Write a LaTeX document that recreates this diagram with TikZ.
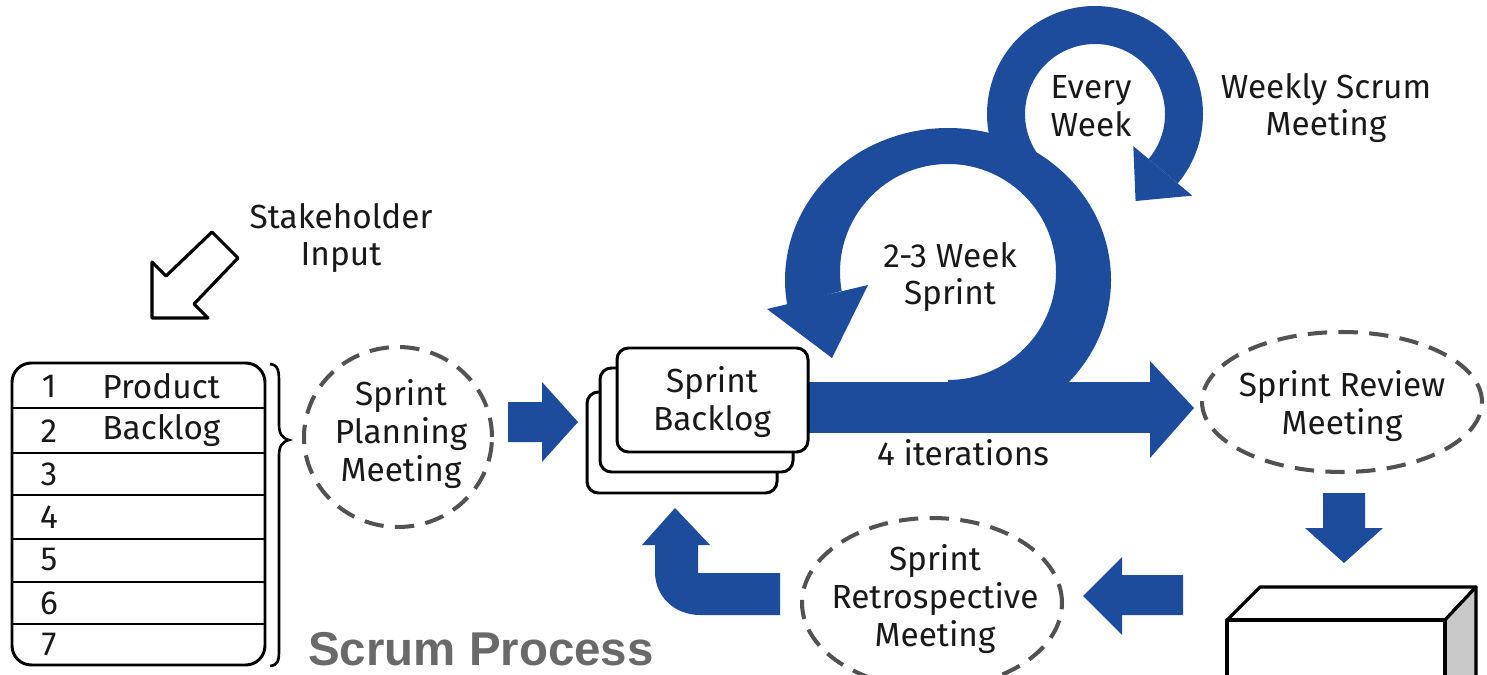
\documentclass[tikz,border=0pt]{standalone}
\usepackage{fontspec}
\setmainfont{Fira Sans}
\newfontfamily\arialfont{Liberation Sans}
\usetikzlibrary{shapes.geometric}
\definecolor{sblue}{RGB}{30,76,156}
\definecolor{dashgray}{RGB}{82,82,82}
\definecolor{txt}{RGB}{25,25,25}
\definecolor{sidegray}{RGB}{200,200,200}
\definecolor{titlegray}{RGB}{105,105,105}
\newcommand\fs{\fontsize{19pt}{21.5pt}\selectfont}
\tikzset{
  lbl/.style={font=\fs, text=txt, inner sep=0pt, align=center},
  blockarrow/.style={fill=sblue, draw=none},
  meet/.style={ellipse, draw=dashgray, line width=2.3pt, dash pattern=on 11pt off 6.5pt, inner sep=0pt},
  tbl/.style={draw=black, line width=1.7pt},
  card/.style={draw=black, line width=1.7pt, fill=white, rounded corners=6.5pt},
  boxline/.style={draw=black, line width=1.8pt, line join=round},
}
\begin{document}
\begin{tikzpicture}[x=0.02cm,y=-0.02cm]
\useasboundingbox (0,0) rectangle (1487,675);
\clip (0,0) rectangle (1487,675);
\fill[white] (0,0) rectangle (1487,675);

% ---- small weekly loop ----
\fill[blockarrow] ([shift={(1095,114)}]-215:108) arc[start angle=-215,end angle=40,radius=108]
   -- ([shift={(1095,114)}]40:70) arc[start angle=40,end angle=-215,radius=70] -- cycle;
\fill[blockarrow] ([shift={(1095,114)}]40:50) -- ([shift={(1095,114)}]40:127) -- ([shift={(1095,114)}]65:96) -- cycle;

% ---- big sprint loop ----
\fill[blockarrow] (948,432) arc[start angle=90,end angle=-190,x radius=163,y radius=152]
   -- ([shift={(948,272)}]-190:108) arc[start angle=-190,end angle=90,radius=108] -- cycle;
\fill[blockarrow] (767,309) -- (868,285) -- (832,358) -- cycle;
\fill[blockarrow] (790,382) rectangle (1151,433);
\fill[blockarrow] (1150,361) -- (1194,408) -- (1150,458) -- cycle;

% ---- sprint backlog cards ----
\draw[card] (587,392) rectangle (777,493);
\draw[card] (600,368) rectangle (793,472);
\draw[card] (617,348) rectangle (808,452);
\node[lbl] (sb) at (712,402) {Sprint\\Backlog};

% ---- product backlog table ----
\draw[tbl, rounded corners=11pt, fill=white] (12,363) rectangle (265,665);
\foreach \yy in {408,453,495,539,582,624} \draw[tbl] (12,\yy) -- (265,\yy);
\node[lbl] (n1) at (49,386) {1};
\node[lbl] (n2) at (49,431) {2};
\node[lbl] (n3) at (49,474) {3};
\node[lbl] (n4) at (49,517) {4};
\node[lbl] (n5) at (49,560) {5};
\node[lbl] (n6) at (49,603) {6};
\node[lbl] (n7) at (49,644) {7};
\node[lbl, anchor=west] (pb1) at (102,386) {Product};
\node[lbl, anchor=west] (pb2) at (102,431) {Backlog};
\draw[black, line width=1.5pt] (270,364) .. controls (279,365) and (279,372) .. (279,384) -- (279,424)
   .. controls (279,434) and (282,438) .. (289,440) .. controls (282,442) and (279,446) .. (279,456)
   -- (279,650) .. controls (279,661) and (278,665) .. (270,666);

% ---- stakeholder input ----
\draw[boxline, fill=white] (152,318) -- (152,262) -- (166,276) -- (212,232) -- (238,258) -- (194,304) -- (208,318) -- cycle;
\node[lbl] (stake) at (341,238) {Stakeholder\\Input};

% ---- sprint planning ----
\node[meet, minimum width=3.76cm, minimum height=3.6cm] (plan) at (398,437) {};
\node[lbl] (planl) at (401,434) {Sprint\\Planning\\Meeting};
\fill[blockarrow] (508,402) -- (542,402) -- (542,382) -- (578,422) -- (542,462) -- (542,442) -- (508,442) -- cycle;

% ---- loop labels ----
\node[lbl] (sprint) at (950,277) {2-3 Week\\Sprint};
\node[lbl] (iter) at (963,453) {4 iterations};
\node[lbl] (every) at (1091,106) {Every\\Week};
\node[lbl] (weekly) at (1326,108) {Weekly Scrum\\Meeting};

% ---- sprint review ----
\node[meet, minimum width=5.6cm, minimum height=2.8cm] (review) at (1342,402) {};
\node[lbl] (reviewl) at (1342,406) {Sprint Review\\Meeting};
\fill[blockarrow] (1323,493) -- (1365,493) -- (1365,528) -- (1383,528) -- (1344,563) -- (1305,528) -- (1323,528) -- cycle;

% ---- product box ----
\draw[boxline, fill=white] (1227,620) -- (1260,587) -- (1476,587) -- (1445,620) -- cycle;
\draw[boxline, fill=sidegray] (1445,620) -- (1476,587) -- (1476,700) -- (1445,700) -- cycle;
\draw[boxline, fill=white] (1227,620) rectangle (1445,700);

% ---- retrospective ----
\fill[blockarrow] (1183,575) -- (1122,575) -- (1122,557) -- (1083,596) -- (1122,635) -- (1122,615) -- (1183,615) -- cycle;
\node[meet, minimum width=5.2cm, minimum height=3.4cm] (retro) at (932,603) {};
\node[lbl] (retrol) at (935,599) {Sprint\\Retrospective\\Meeting};
\fill[blockarrow] (780,573) -- (698,573) -- (698,545) -- (710,545) -- (675,508) -- (642,545) -- (655,545) -- (655,572)
   .. controls (655,597) and (675,615) .. (700,615) -- (780,615) -- cycle;

% ---- title ----
\node[font=\arialfont\bfseries\fontsize{27pt}{30pt}\selectfont, text=titlegray, inner sep=0pt, anchor=base west] (title) at (308,665) {Scrum Process};
\end{tikzpicture}
\end{document}
